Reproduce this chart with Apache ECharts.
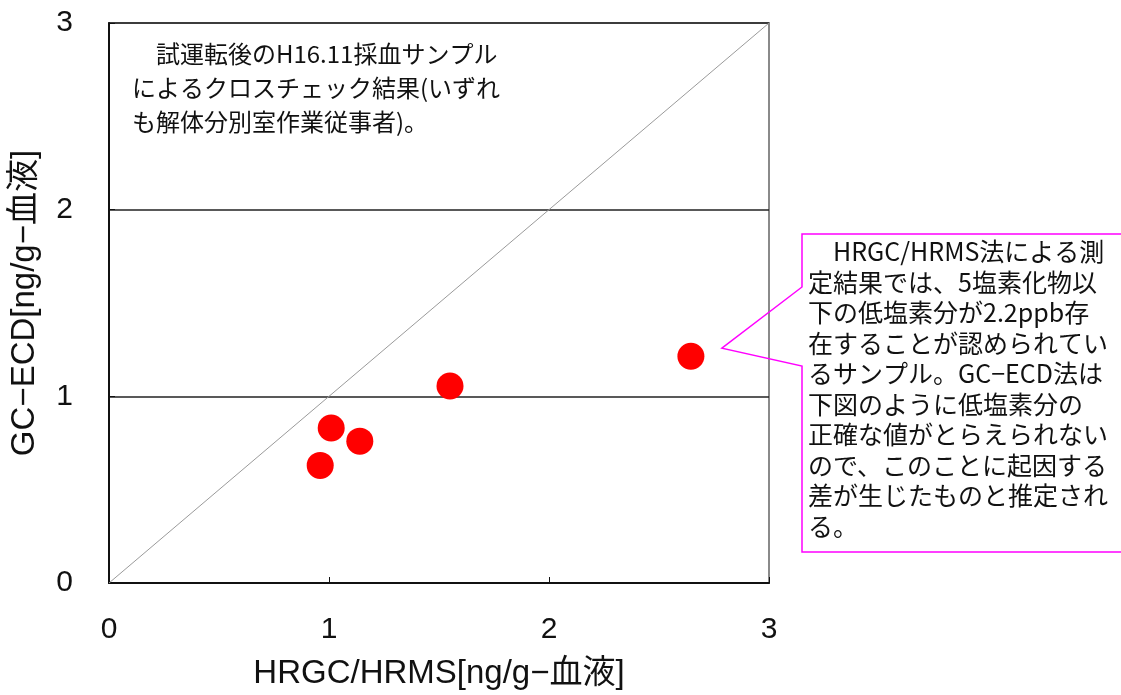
<!DOCTYPE html>
<html>
<head>
<meta charset="utf-8">
<script src="https://cdn.jsdelivr.net/npm/echarts@6/dist/echarts.min.js"></script>
<style>
  html, body { margin: 0; padding: 0; background: #fff; }
  #chart { width: 1121px; height: 695px; }
</style>
</head>
<body>
<div id="chart"></div>
<script>
// HRGC/HRMS vs GC-ECD cross-check, blood samples (ng/g-blood)
const hrgcHrms = [0.96, 1.01, 1.14, 1.55, 2.645];
const gcEcd    = [0.63, 0.83, 0.76, 1.055, 1.215];
const identityLine = [0, 3];
const axisTicks = [0, 1, 2, 3];

const xTitle = 'HRGC/HRMS[ng/g−血液]';
const yTitle = 'GC−ECD[ng/g−血液]';
const noteLines = [
  '\u3000試運転後のH16.11採血サンプル',
  'によるクロスチェック結果(いずれ',
  'も解体分別室作業従事者)。'
];
const calloutLines = [
  '\u3000HRGC/HRMS法による測',
  '定結果では、5塩素化物以',
  '下の低塩素分が2.2ppb存',
  '在することが認められてい',
  'るサンプル。GC−ECD法は',
  '下図のように低塩素分の',
  '正確な値がとらえられない',
  'ので、このことに起因する',
  '差が生じたものと推定され',
  'る。'
];

const FONT = '"Noto Sans CJK JP", "Noto Sans", sans-serif';
const TITLE_FONT = '"Liberation Sans", "Noto Sans CJK JP", sans-serif';
const TICK_FONT = '"Liberation Sans Narrow", "Liberation Sans", sans-serif';
const chart = echarts.init(document.getElementById('chart'), null, { renderer: 'canvas' });

const points = hrgcHrms.map((x, i) => [x, gcEcd[i]]);
const diag = identityLine.map(v => [v, v]);

const axisCommon = {
  type: 'value',
  min: axisTicks[0],
  max: axisTicks[axisTicks.length - 1],
  interval: 1,
  nameLocation: 'middle',
  nameTextStyle: { fontFamily: TITLE_FONT, fontSize: 33, color: '#111' },
  axisLine: { show: true, onZero: false, lineStyle: { color: '#111', width: 2 } },
  axisTick: { show: true, inside: true, length: 6, lineStyle: { color: '#111', width: 1 } },
  axisLabel: { fontFamily: TICK_FONT, fontSize: 30, color: '#111', margin: 32 }
};

chart.setOption({
  animation: false,
  backgroundColor: '#fff',
  grid: {
    left: 109, right: 352, top: 23, bottom: 111,
    show: true, borderColor: '#8a8a8a', borderWidth: 2, backgroundColor: 'transparent'
  },
  xAxis: Object.assign({}, axisCommon, {
    name: xTitle,
    nameGap: 74,
    splitLine: { show: false }
  }),
  yAxis: Object.assign({}, axisCommon, {
    name: yTitle,
    nameGap: 68,
    axisLabel: Object.assign({}, axisCommon.axisLabel, { margin: 36 }),
    splitLine: { show: true, lineStyle: { color: '#222', width: 1.5 } }
  }),
  series: [
    {
      type: 'line',
      data: diag,
      symbol: 'none',
      silent: true,
      lineStyle: { color: '#9a9a9a', width: 1 },
      z: 2
    },
    {
      type: 'scatter',
      data: points,
      symbol: 'circle',
      symbolSize: 27,
      itemStyle: { color: '#ff0000', opacity: 1 },
      z: 3
    }
  ]
});

// Annotations: note at top-left of the plot and the callout for the outlying sample
function drawAnnotations() {
  const last = points[points.length - 1];
  const tip = chart.convertToPixel({ seriesIndex: 1 }, last);
  const tipX = tip[0] + 31, tipY = tip[1] - 8;
  const boxL = 802, boxT = 234, boxB = 552, boxR = 1130;
  const lineH = 30.5;

  const graphics = [];
  noteLines.forEach((t, i) => {
    graphics.push({
      type: 'text', left: 132, top: 42 + i * 34, z: 10,
      style: { text: t, fontFamily: FONT, fontSize: 24, fill: '#111' }
    });
  });
  graphics.push({
    type: 'polygon', z: 10,
    shape: { points: [[boxL, boxT], [boxR, boxT], [boxR, boxB], [boxL, boxB], [boxL, 366], [tipX, tipY], [boxL, 287]] },
    style: { fill: 'none', stroke: '#ff00ff', lineWidth: 1.5 }
  });
  calloutLines.forEach((t, i) => {
    graphics.push({
      type: 'text', left: 808, top: 239 + i * lineH, z: 11,
      style: { text: t, fontFamily: FONT, fontSize: 25, fill: '#111' }
    });
  });
  chart.setOption({ graphic: graphics });
}
drawAnnotations();
</script>
</body>
</html>
